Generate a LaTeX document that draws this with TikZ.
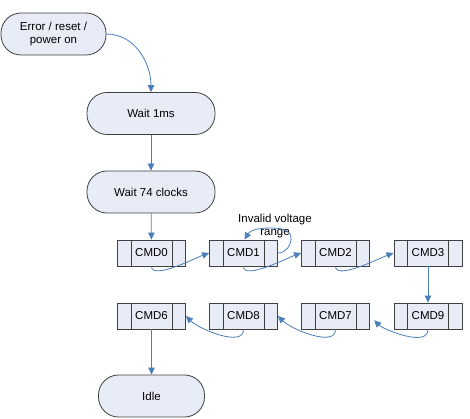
\documentclass[tikz,border=0pt]{standalone}
\usepackage{fontspec}
\setmainfont{Liberation Sans}
\usetikzlibrary{arrows.meta}
\definecolor{boxfill}{HTML}{E8ECF7}
\definecolor{boxline}{HTML}{404040}
\definecolor{flowblue}{HTML}{4A7EBB}
\tikzset{
    txt/.style={font=\fontsize{11.5}{13.5}\selectfont},
    term/.style={txt, draw=boxline, fill=boxfill, line width=0.8pt, rounded corners=20pt,
        minimum height=42pt, align=center, inner sep=2pt},
    cmdbox/.style={txt, draw=boxline, fill=boxfill, line width=0.8pt,
        minimum width=68pt, minimum height=26pt, inner sep=0pt},
    flow/.style={draw=flowblue, line width=0.8pt, -{Triangle[length=7pt,width=6.5pt]}},
    lbl/.style={txt, align=center, inner sep=0pt}
}
\begin{document}
\begin{tikzpicture}[x=1pt,y=1pt]
            % \draw[help lines, color=gray!30, dashed] (0,0) grid[step=20] (470,418);
            \useasboundingbox (0,0) rectangle (470,418);

            \node[term, minimum width=105pt] (reset) at (53.5,384) {Error / reset /\\power on};
            \node[term, minimum width=128pt] (wait1) at (151,304.5) {Wait 1ms};
            \node[term, minimum width=128pt] (wait74) at (151,226) {Wait 74 clocks};
            \node[term, minimum width=106pt] (idle) at (151.5,22) {Idle};

            \foreach\nm/\lab/\x/\y in {cmd0/CMD0/151.5/165, cmd1/CMD1/243.5/165, cmd2/CMD2/335.5/165,
                cmd3/CMD3/428/165, cmd6/CMD6/151.5/102, cmd8/CMD8/243.5/102,
                cmd7/CMD7/335.5/102, cmd9/CMD9/428/102}
            {
                \node[cmdbox] (\nm) at (\x,\y) {\lab};
                \draw[boxline, line width=0.8pt] ([xshift=14pt]\nm.north west) -- ([xshift=14pt]\nm.south west);
                \draw[boxline, line width=0.8pt] ([xshift=-14pt]\nm.north east) -- ([xshift=-14pt]\nm.south east);
            }

            \node[lbl] (invalid) at (275,192) {Invalid voltage\\range};

            \draw[flow] (reset.east) to[out=0,in=90] (wait1.north);
            \draw[flow] (wait1) -- (wait74);
            \draw[flow] (wait74) -- (cmd0);

            % first row, left to right
            \draw[flow] (cmd0.south) to[out=-90,in=200,looseness=0.6] (cmd1.west);
            \draw[flow] (cmd1.south) to[out=-90,in=200,looseness=0.6] (cmd2.west);
            \draw[flow] (cmd2.south) to[out=-90,in=200,looseness=0.6] (cmd3.west);
            \draw[flow] (cmd1.east) to[out=0,in=-90] (291,180) to[out=90,in=0] (270,190)
                to[out=180,in=60] ([xshift=1pt]cmd1.north);

            \draw[flow] (cmd3) -- (cmd9);

            % second row, right to left
            \draw[flow, shorten >=6pt] (cmd9.south) to[out=-90,in=-45,looseness=0.8] (cmd7.east);
            \draw[flow] (cmd7.south) to[out=-90,in=-45,looseness=0.8] (cmd8.east);
            \draw[flow] (cmd8.south) to[out=-90,in=-45,looseness=0.8] (cmd6.east);

            \draw[flow] (cmd6) -- (idle);
\end{tikzpicture}
\end{document}
